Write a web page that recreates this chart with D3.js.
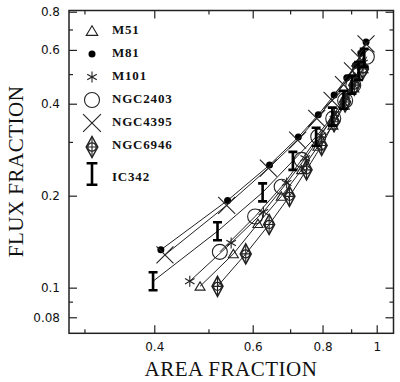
<!DOCTYPE html>
<html><head><meta charset="utf-8">
<script src="https://cdn.jsdelivr.net/npm/d3@7"></script>
<style>
html,body{margin:0;padding:0;background:#fff;}
svg{display:block;}
</style></head>
<body>
<svg id="chart" width="400" height="382"></svg>
<script>
// ---- data ----
const seriesNames = ["M51","M81","M101","NGC2403","NGC4395","NGC6946","IC342"];
const markerTypes = ["triangle","dot","asterisk","circle","cross","diamond","ibar"];

const m51X = [0.483,0.554,0.613,0.675,0.734,0.785,0.835,0.875,0.910,0.945];
const m51Y = [0.101,0.129,0.162,0.199,0.243,0.290,0.340,0.395,0.450,0.520];

const m81X = [0.411,0.541,0.643,0.724,0.786,0.839,0.884,0.916,0.937,0.957];
const m81Y = [0.133,0.193,0.252,0.311,0.368,0.427,0.486,0.535,0.585,0.637];

const m101X = [0.463,0.549,0.627,0.690,0.745,0.795,0.840,0.880,0.915,0.945];
const m101Y = [0.105,0.140,0.177,0.220,0.265,0.315,0.370,0.425,0.485,0.545];

const ngc2403X = [0.524,0.606,0.676,0.734,0.786,0.836,0.878,0.908,0.934,0.960];
const ngc2403Y = [0.131,0.171,0.214,0.262,0.312,0.358,0.410,0.460,0.517,0.570];

const ngc4395X = [0.418,0.539,0.640,0.722,0.781,0.832,0.872,0.905,0.932,0.957];
const ngc4395Y = [0.128,0.186,0.246,0.304,0.358,0.410,0.462,0.512,0.565,0.628];

const ngc6946X = [0.519,0.583,0.642,0.698,0.749,0.797,0.839,0.878,0.912,0.945];
const ngc6946Y = [0.101,0.129,0.161,0.199,0.243,0.292,0.349,0.405,0.460,0.520];

const ic342X = [0.398,0.519,0.625,0.708,0.779,0.833,0.872,0.903,0.928,0.950];
const ic342Y = [0.105,0.153,0.205,0.260,0.312,0.363,0.412,0.462,0.512,0.565];

const xMajorTicks = [0.4,0.6,0.8,1];
const xMinorTicks = [0.3,0.5,0.7,0.9];
const yMajorTicks = [0.08,0.1,0.2,0.4,0.6,0.8];
const yMinorTicks = [0.09,0.3,0.5,0.7];

const xDomain = [0.2815,1.0716];
const yDomain = [0.0709,0.8075];

const xTitle = "AREA FRACTION";
const yTitle = "FLUX FRACTION";

// ---- build ----
const allX = [m51X,m81X,m101X,ngc2403X,ngc4395X,ngc6946X,ic342X];
const allY = [m51Y,m81Y,m101Y,ngc2403Y,ngc4395Y,ngc6946Y,ic342Y];
const series = seriesNames.map((n,i)=>({name:n, type:markerTypes[i],
  pts: allX[i].map((x,j)=>({x:x,y:allY[i][j]}))}));

const L=69, R=393.5, T=10.5, B=333.3;
const svg = d3.select("#chart");
const x = d3.scaleLog().domain(xDomain).range([L,R]);
const y = d3.scaleLog().domain(yDomain).range([B,T]);
const ink = "#222";

function fmt(v){ return String(v); }

// axes (inward ticks, mirrored)
function styleAxis(g){
  g.select(".domain").remove();
  g.selectAll(".tick line").attr("stroke",ink).attr("stroke-width",1.2);
  g.selectAll(".tick text").attr("fill","#111").attr("font-family","DejaVu Sans")
   .attr("font-size","12px");
}
svg.append("g").attr("transform",`translate(0,${B})`)
  .call(d3.axisBottom(x).tickValues(xMajorTicks).tickSize(-8).tickPadding(9).tickFormat(fmt)).call(styleAxis);
svg.append("g").attr("transform",`translate(0,${B})`)
  .call(d3.axisBottom(x).tickValues(xMinorTicks).tickSize(-4).tickFormat("")).call(styleAxis);
svg.append("g").attr("transform",`translate(0,${T})`)
  .call(d3.axisTop(x).tickValues(xMajorTicks).tickSize(-8).tickFormat("")).call(styleAxis);
svg.append("g").attr("transform",`translate(0,${T})`)
  .call(d3.axisTop(x).tickValues(xMinorTicks).tickSize(-4).tickFormat("")).call(styleAxis);
svg.append("g").attr("transform",`translate(${L},0)`)
  .call(d3.axisLeft(y).tickValues(yMajorTicks).tickSize(-8).tickPadding(9).tickFormat(fmt)).call(styleAxis);
svg.append("g").attr("transform",`translate(${L},0)`)
  .call(d3.axisLeft(y).tickValues(yMinorTicks).tickSize(-4).tickFormat("")).call(styleAxis);
svg.append("g").attr("transform",`translate(${R},0)`)
  .call(d3.axisRight(y).tickValues(yMajorTicks).tickSize(-8).tickFormat("")).call(styleAxis);
svg.append("g").attr("transform",`translate(${R},0)`)
  .call(d3.axisRight(y).tickValues(yMinorTicks).tickSize(-4).tickFormat("")).call(styleAxis);

svg.append("rect").attr("x",L).attr("y",T).attr("width",R-L).attr("height",B-T)
  .attr("fill","none").attr("stroke",ink).attr("stroke-width",1.5);

// titles
svg.append("text").attr("x",231).attr("y",376).attr("text-anchor","middle")
  .attr("font-family","Liberation Serif").attr("font-size","21px").attr("fill","#111")
  .attr("letter-spacing","0.5px").text(xTitle);
svg.append("text").attr("transform","translate(23,171.5) rotate(-90)").attr("text-anchor","middle")
  .attr("font-family","Liberation Serif").attr("font-size","21px").attr("fill","#111")
  .attr("letter-spacing","0.5px").text(yTitle);

// markers
function marker(g,type,s){
  const st = ink;
  if(type==="triangle"){
    const w=5*s,h=4.5*s;
    g.append("path").attr("d",`M0,${-h} L${w},${h*0.85} L${-w},${h*0.85} Z`)
     .attr("fill","none").attr("stroke",st).attr("stroke-width",1.1);
  } else if(type==="dot"){
    g.append("circle").attr("r",3.5*s).attr("fill","#000");
  } else if(type==="asterisk"){
    const a=5.5*s;
    [90,30,150].forEach(d=>{const r=d*Math.PI/180;
      g.append("line").attr("x1",-a*Math.cos(r)).attr("y1",-a*Math.sin(r))
       .attr("x2",a*Math.cos(r)).attr("y2",a*Math.sin(r)).attr("stroke",st).attr("stroke-width",1.1);});
  } else if(type==="circle"){
    g.append("circle").attr("r",7.5*s).attr("fill","none").attr("stroke",st).attr("stroke-width",1.1);
  } else if(type==="cross"){
    const a=8.5*s;
    g.append("path").attr("d",`M${-a},${-a}L${a},${a}M${-a},${a}L${a},${-a}`)
     .attr("stroke",st).attr("stroke-width",1.1).attr("fill","none");
  } else if(type==="diamond"){
    const w=5.5*s,h=10*s;
    g.append("path").attr("d",`M0,${-h}L${w},0L0,${h}L${-w},0Z`)
     .attr("fill","none").attr("stroke",st).attr("stroke-width",1.5);
    g.append("circle").attr("r",4*s).attr("fill","none").attr("stroke",st).attr("stroke-width",1.2);
    g.append("path").attr("d",`M0,${-h}V${h}M${-w},0H${w}`).attr("stroke",st).attr("stroke-width",1.1);
  } else if(type==="ibar"){
    const h=9*s,w=4.5*s;
    g.append("path").attr("d",`M0,${-h}V${h}M${-w},${-h}H${w}M${-w},${h}H${w}`)
     .attr("stroke","#000").attr("stroke-width",2.6).attr("fill","none");
  }
}

const line = d3.line().x(d=>x(d.x)).y(d=>y(d.y));
const plot = svg.append("g");
series.forEach(s=>{
  plot.append("path").attr("d",line(s.pts)).attr("fill","none")
    .attr("stroke",ink).attr("stroke-width",1);
});
series.forEach(s=>{
  s.pts.forEach(p=>{
    const g = plot.append("g").attr("transform",`translate(${x(p.x)},${y(p.y)})`);
    marker(g,s.type,1);
  });
});

// legend
const legY = [31, 54, 77, 100, 123, 147, 174];
const legYText = [29, 52, 75, 98, 121, 144, 176];
const legScale = [1.15,1,1,1,1.05,1.05,1.2];
series.forEach((s,i)=>{
  const g = svg.append("g").attr("transform",`translate(92,${legY[i]})`);
  marker(g,s.type,legScale[i]);
  svg.append("text").attr("x",112).attr("y",legYText[i]).attr("dy","0.35em")
    .attr("font-family","Liberation Serif").attr("font-size","13px").attr("font-weight","bold")
    .attr("letter-spacing","0.8px").attr("fill","#111").text(s.name);
});
</script>
</body></html>
